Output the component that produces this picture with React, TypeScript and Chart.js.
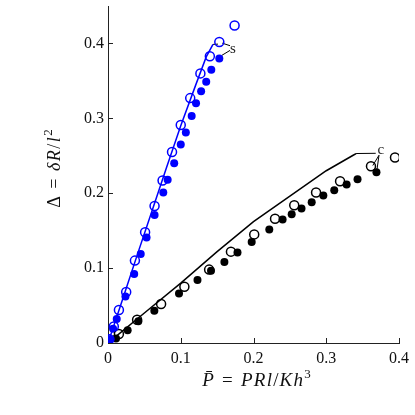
import React, { useEffect, useRef } from "react";
import { Chart, registerables } from "chart.js";

Chart.register(...registerables);

// Tick values
const xTicks = [0, 0.1, 0.2, 0.3, 0.4];
const yTicks = [0, 0.1, 0.2, 0.3, 0.4];

// Theory curves
const sCurve: [number, number][] = [
  [0, 0], [0.02, 0.058], [0.04, 0.117], [0.06, 0.175], [0.08, 0.233],
  [0.1, 0.29], [0.12, 0.343], [0.135, 0.382], [0.1443, 0.3987],
];
const cCurve: [number, number][] = [
  [0, 0], [0.05, 0.04], [0.1, 0.08], [0.15, 0.122], [0.2, 0.162],
  [0.25, 0.196], [0.3, 0.23], [0.337, 0.2507], [0.341, 0.253],
];

// Measurements, s (blue)
const sOpen: [number, number][] = [
  [0.002, 0.005], [0.008, 0.022], [0.015, 0.044], [0.025, 0.068], [0.037, 0.11],
  [0.051, 0.148], [0.064, 0.183], [0.075, 0.217], [0.088, 0.255], [0.1, 0.291],
  [0.113, 0.327], [0.127, 0.36], [0.14, 0.383], [0.153, 0.402], [0.174, 0.424],
];
const sFilled: [number, number][] = [
  [0, 0], [0.001, 0.002], [0.002, 0.005], [0.007, 0.019], [0.012, 0.032],
  [0.024, 0.062], [0.036, 0.092], [0.045, 0.119], [0.053, 0.141], [0.064, 0.171],
  [0.076, 0.201], [0.082, 0.218], [0.091, 0.24], [0.1, 0.265], [0.107, 0.281],
  [0.115, 0.303], [0.121, 0.32], [0.128, 0.336], [0.135, 0.349], [0.142, 0.365],
  [0.153, 0.38],
];

// Measurements, c (black)
const cOpen: [number, number][] = [
  [0.015, 0.012], [0.04, 0.031], [0.073, 0.052], [0.105, 0.075], [0.139, 0.098],
  [0.169, 0.122], [0.201, 0.145], [0.2296, 0.166], [0.256, 0.184], [0.286, 0.201],
  [0.319, 0.216], [0.3615, 0.236], [0.3945, 0.2476],
];
const cFilled: [number, number][] = [
  [0.011, 0.006], [0.027, 0.017], [0.0417, 0.029], [0.0637, 0.043], [0.0976, 0.066],
  [0.123, 0.084], [0.1416, 0.0965], [0.16, 0.108], [0.178, 0.121], [0.1975, 0.135],
  [0.2217, 0.1515], [0.24, 0.165], [0.2525, 0.172], [0.266, 0.1795], [0.28, 0.188],
  [0.296, 0.197], [0.311, 0.204], [0.328, 0.2115], [0.343, 0.2187], [0.369, 0.228],
];

// Leader lines to the curve labels
const sLeaders: [number, number][][] = [
  [[0.1443, 0.3987], [0.1512, 0.3991]],
  [[0.157, 0.4004], [0.1677, 0.397]],
  [[0.1563, 0.384], [0.1677, 0.3907]],
];
const cLeaders: [number, number][][] = [
  [[0.341, 0.253], [0.368, 0.2533]],
  [[0.3725, 0.2507], [0.364, 0.237]],
  [[0.3725, 0.2507], [0.3698, 0.232]],
];
const curveLabels = [
  { text: "s", x: 0.1718, y: 0.393 },
  { text: "c", x: 0.375, y: 0.2573 },
];

// Axis titles as glyph runs (i = italic, sup = superscript, gap = extra space before)
type Glyph = { t: string; i?: boolean; sup?: boolean; gap?: number };
const xTitle: Glyph[] = [
  { t: "P\u0304", i: true },
  { t: "=", gap: 7 },
  { t: "P", i: true, gap: 7 },
  { t: "R", i: true },
  { t: "l", i: true },
  { t: "/" },
  { t: "K", i: true },
  { t: "h", i: true },
  { t: "3", sup: true },
];
const yTitle: Glyph[] = [
  { t: "Δ" },
  { t: "=", gap: 6 },
  { t: "δ", i: true, gap: 6 },
  { t: "R", i: true },
  { t: "/" },
  { t: "l", i: true },
  { t: "2", sup: true },
];

const BLUE = "#0000ff";
const BLACK = "#000000";
const SERIF = "'Liberation Serif', 'Times New Roman', serif";

const pts = (a: [number, number][]) => a.map(([x, y]) => ({ x, y }));

function glyphFont(g: Glyph, size: number) {
  const s = g.sup ? Math.round(size * 0.7) : size;
  return `${g.i ? "italic " : ""}${s}px ${SERIF}`;
}

function drawTitle(
  ctx: CanvasRenderingContext2D,
  glyphs: Glyph[],
  cx: number,
  cy: number,
  rot: number,
  size: number,
  sp: number
) {
  ctx.save();
  ctx.translate(cx, cy);
  ctx.rotate(rot);
  const widths = glyphs.map((g) => {
    ctx.font = glyphFont(g, size);
    return ctx.measureText(g.t).width;
  });
  let total = 0;
  glyphs.forEach((g, k) => {
    total += (k > 0 ? sp : 0) + (g.gap || 0) + widths[k];
  });
  let x = -total / 2;
  const base = size * 0.33;
  ctx.fillStyle = "#111";
  ctx.textAlign = "left";
  ctx.textBaseline = "alphabetic";
  glyphs.forEach((g, k) => {
    x += (k > 0 ? sp : 0) + (g.gap || 0);
    ctx.font = glyphFont(g, size);
    ctx.fillText(g.t, x, g.sup ? base - size * 0.42 : base);
    x += widths[k];
  });
  ctx.restore();
}

const decorations = {
  id: "decorations",
  afterDatasetsDraw(chart: any) {
    const { ctx, chartArea, scales } = chart;
    ctx.save();
    ctx.strokeStyle = "#222";
    ctx.lineWidth = 1;
    ctx.beginPath();
    xTicks.forEach((v) => {
      if (v === 0) return;
      const px = Math.round(scales.x.getPixelForValue(v)) + 0.5;
      ctx.moveTo(px, chartArea.bottom);
      ctx.lineTo(px, chartArea.bottom - 5);
    });
    yTicks.forEach((v) => {
      if (v === 0) return;
      const py = Math.round(scales.y.getPixelForValue(v)) + 0.5;
      ctx.moveTo(chartArea.left, py);
      ctx.lineTo(chartArea.left + 5, py);
    });
    ctx.stroke();
    ctx.fillStyle = "#222";
    ctx.font = `15px ${SERIF}`;
    ctx.textAlign = "center";
    ctx.textBaseline = "middle";
    curveLabels.forEach((l) => {
      ctx.fillText(l.text, scales.x.getPixelForValue(l.x), scales.y.getPixelForValue(l.y));
    });
    ctx.restore();
    const midX = (chartArea.left + chartArea.right) / 2;
    drawTitle(ctx, xTitle, midX + 3, chartArea.bottom + 37, 0, 19, 1.2);
    drawTitle(ctx, yTitle, 54, (chartArea.top + chartArea.bottom) / 2 - 6, -Math.PI / 2, 18, 1.5);
  },
};

export default function App() {
  const ref = useRef<HTMLCanvasElement>(null);
  useEffect(() => {
    if (!ref.current) return;
    const leaderSets = [...sLeaders, ...cLeaders].map((seg) => ({
      type: "line" as const,
      data: pts(seg),
      borderColor: BLACK,
      borderWidth: 1,
      pointRadius: 0,
      showLine: true,
      fill: false,
      order: 5,
    }));
    const tickCb = (v: any) => (Number(v) === 0 ? "0" : Number(v).toFixed(1));
    const chart = new Chart(ref.current, {
      type: "scatter",
      data: {
        datasets: [
          {
            type: "line",
            data: pts(sCurve),
            borderColor: BLUE,
            borderWidth: 1.5,
            pointRadius: 0,
            showLine: true,
            fill: false,
            order: 4,
          } as any,
          {
            type: "line",
            data: pts(cCurve),
            borderColor: BLACK,
            borderWidth: 1.5,
            pointRadius: 0,
            showLine: true,
            fill: false,
            order: 4,
          } as any,
          ...leaderSets,
          {
            data: pts(sFilled),
            pointRadius: 4,
            pointBackgroundColor: BLUE,
            pointBorderColor: BLUE,
            pointBorderWidth: 0,
            order: 3,
          },
          {
            data: pts(cFilled),
            pointRadius: 4,
            pointBackgroundColor: BLACK,
            pointBorderColor: BLACK,
            pointBorderWidth: 0,
            order: 3,
          },
          {
            data: pts(sOpen),
            pointRadius: 4.5,
            pointBackgroundColor: "rgba(0,0,0,0)",
            pointBorderColor: BLUE,
            pointBorderWidth: 1.5,
            order: 2,
          },
          {
            data: pts(cOpen),
            pointRadius: 4.5,
            pointBackgroundColor: "rgba(0,0,0,0)",
            pointBorderColor: BLACK,
            pointBorderWidth: 1.5,
            order: 2,
          },
        ],
      },
      options: {
        animation: false,
        responsive: false,
        maintainAspectRatio: false,
        devicePixelRatio: 1,
        layout: { padding: { left: 0, right: 16, top: 5.5, bottom: 0 } },
        plugins: { legend: { display: false }, tooltip: { enabled: false } },
        scales: {
          x: {
            type: "linear",
            min: 0,
            max: 0.4,
            afterBuildTicks: (s: any) => {
              s.ticks = xTicks.map((v) => ({ value: v }));
            },
            afterFit: (s: any) => {
              s.height = 72;
            },
            grid: { display: false, drawTicks: false, tickLength: 0 },
            border: { display: true, color: "#222", width: 1 },
            ticks: {
              color: "#111",
              padding: 6,
              maxRotation: 0,
              autoSkip: false,
              font: { family: SERIF, size: 16 },
              callback: tickCb,
            },
            title: { display: false },
          },
          y: {
            type: "linear",
            min: 0,
            max: 0.45,
            afterBuildTicks: (s: any) => {
              s.ticks = yTicks.map((v) => ({ value: v }));
            },
            afterFit: (s: any) => {
              s.width = 108;
              s.paddingTop = 0;
              s.paddingBottom = 0;
            },
            grid: { display: false, drawTicks: false, tickLength: 0 },
            border: { display: true, color: "#222", width: 1 },
            ticks: {
              color: "#111",
              padding: 4,
              autoSkip: false,
              font: { family: SERIF, size: 16 },
              callback: tickCb,
            },
            title: { display: false },
          },
        },
      },
      plugins: [decorations],
    } as any);
    return () => chart.destroy();
  }, []);
  return (
    <div style={{ position: "fixed", left: 0, top: 0, width: 415, height: 415, background: "#fff" }}>
      <canvas ref={ref} width={415} height={415} style={{ width: 415, height: 415 }} />
    </div>
  );
}
